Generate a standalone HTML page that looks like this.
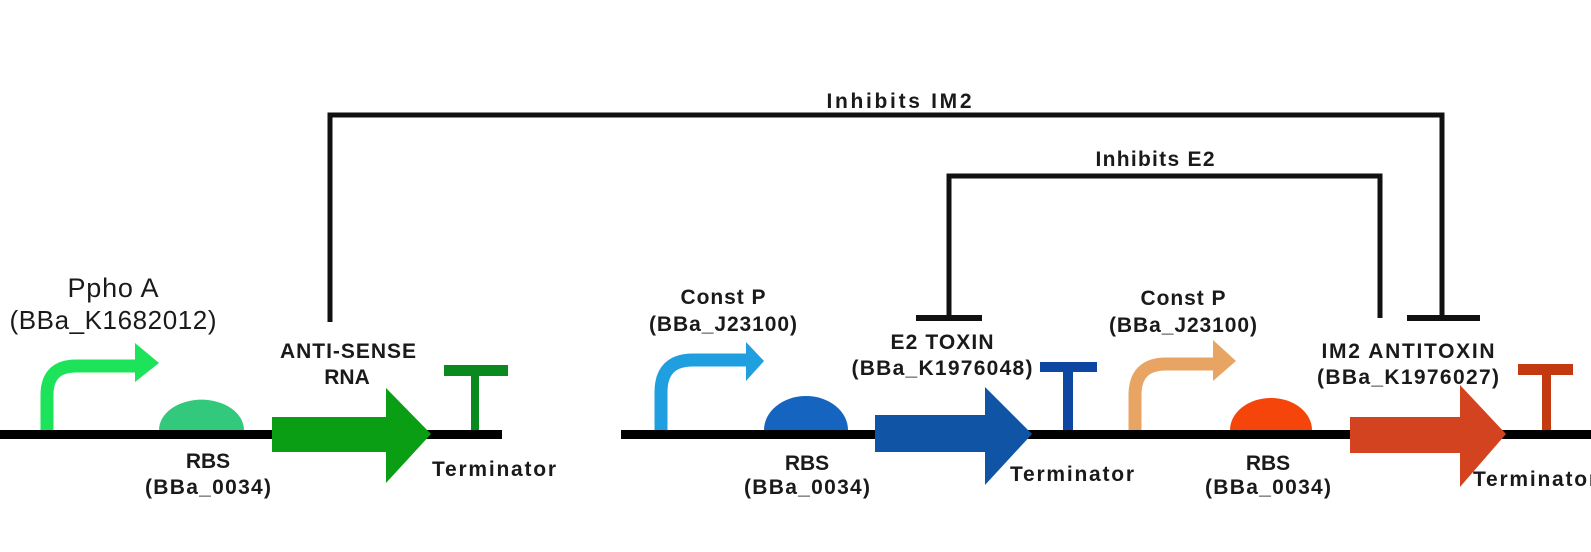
<!DOCTYPE html>
<html><head><meta charset="utf-8"><style>
html,body{margin:0;padding:0;background:#fff;}
svg{display:block;}
text{font-family:"Liberation Sans",sans-serif;fill:#1a1a1a;}
.b{font-weight:bold;font-size:21px;}
</style></head><body>
<svg width="1591" height="552" viewBox="0 0 1591 552" xmlns="http://www.w3.org/2000/svg">
<polyline points="330,322 330,115 1442,115 1442,318" fill="none" stroke="#111" stroke-width="5"/>
<line x1="1407" y1="318" x2="1480" y2="318" stroke="#111" stroke-width="6"/>
<polyline points="949,318 949,176 1380,176 1380,318" fill="none" stroke="#111" stroke-width="5"/>
<line x1="916" y1="318" x2="982" y2="318" stroke="#111" stroke-width="6"/>
<text class="b" x="899" y="108" text-anchor="middle" textLength="145">Inhibits IM2</text>
<text class="b" x="1155" y="166" text-anchor="middle" textLength="119">Inhibits E2</text>

<rect x="0" y="430" width="502" height="9" fill="#000"/>
<rect x="621" y="430" width="970" height="9" fill="#000"/>

<path d="M47,430 L47,395 Q47,366 76,366 L137,366" fill="none" stroke="#1de35a" stroke-width="13"/>
<polygon points="135,343 159,363 135,382" fill="#1de35a"/>
<path d="M159,430 A42,30 0 0 1 244,430 Z" fill="#33c97d"/>
<polygon points="272,417 386,417 386,388 431,434 386,483 386,452 272,452" fill="#0a9e14"/>
<rect x="444" y="365" width="64" height="11" fill="#0a8a1e"/>
<rect x="471" y="374" width="8" height="56" fill="#0a8a1e"/>
<text x="113" y="297" text-anchor="middle" font-size="27" textLength="91">Ppho A</text>
<text x="113" y="329" text-anchor="middle" font-size="26" textLength="207">(BBa_K1682012)</text>
<text class="b" x="348" y="358" text-anchor="middle" textLength="136">ANTI-SENSE</text>
<text class="b" x="347" y="384" text-anchor="middle">RNA</text>
<text class="b" x="208" y="468" text-anchor="middle">RBS</text>
<text class="b" x="208" y="494" text-anchor="middle" textLength="126">(BBa_0034)</text>
<text class="b" x="432" y="476" textLength="124">Terminator</text>

<path d="M661,430 L661,392 Q661,360 693,360 L748,360" fill="none" stroke="#1f9fe0" stroke-width="13"/>
<polygon points="746,342 764,361 746,381" fill="#1f9fe0"/>
<path d="M764,430 A42,34 0 0 1 848,430 Z" fill="#1565c0"/>
<polygon points="875,415 985,415 985,387 1032,434 985,485 985,452 875,452" fill="#1055a5"/>
<rect x="1040" y="362" width="57" height="10" fill="#0d47a1"/>
<rect x="1063" y="370" width="10" height="60" fill="#0d47a1"/>
<text class="b" x="723" y="304" text-anchor="middle" textLength="85">Const P</text>
<text class="b" x="723" y="331" text-anchor="middle" textLength="148">(BBa_J23100)</text>
<text class="b" x="942" y="349" text-anchor="middle" textLength="103">E2 TOXIN</text>
<text class="b" x="942" y="375" text-anchor="middle" textLength="181">(BBa_K1976048)</text>
<text class="b" x="807" y="470" text-anchor="middle">RBS</text>
<text class="b" x="807" y="494" text-anchor="middle" textLength="126">(BBa_0034)</text>
<text class="b" x="1010" y="481" textLength="124">Terminator</text>

<path d="M1135,430 L1135,395 Q1135,364 1166,364 L1215,364" fill="none" stroke="#e8a462" stroke-width="13"/>
<polygon points="1213,340 1236,361 1213,381" fill="#e8a462"/>
<path d="M1230,430 A41,32 0 0 1 1312,430 Z" fill="#f5450a"/>
<polygon points="1350,417 1460,417 1460,385 1506,434 1460,487 1460,453 1350,453" fill="#d4431f"/>
<rect x="1518" y="364" width="55" height="11" fill="#c43a10"/>
<rect x="1542" y="372" width="9" height="58" fill="#c43a10"/>
<text class="b" x="1183" y="305" text-anchor="middle" textLength="85">Const P</text>
<text class="b" x="1183" y="332" text-anchor="middle" textLength="148">(BBa_J23100)</text>
<text class="b" x="1408" y="358" text-anchor="middle" textLength="173">IM2 ANTITOXIN</text>
<text class="b" x="1408" y="384" text-anchor="middle" textLength="182">(BBa_K1976027)</text>
<text class="b" x="1268" y="470" text-anchor="middle">RBS</text>
<text class="b" x="1268" y="494" text-anchor="middle" textLength="126">(BBa_0034)</text>
<text class="b" x="1473" y="486" textLength="124">Terminator</text>
</svg>
</body></html>
